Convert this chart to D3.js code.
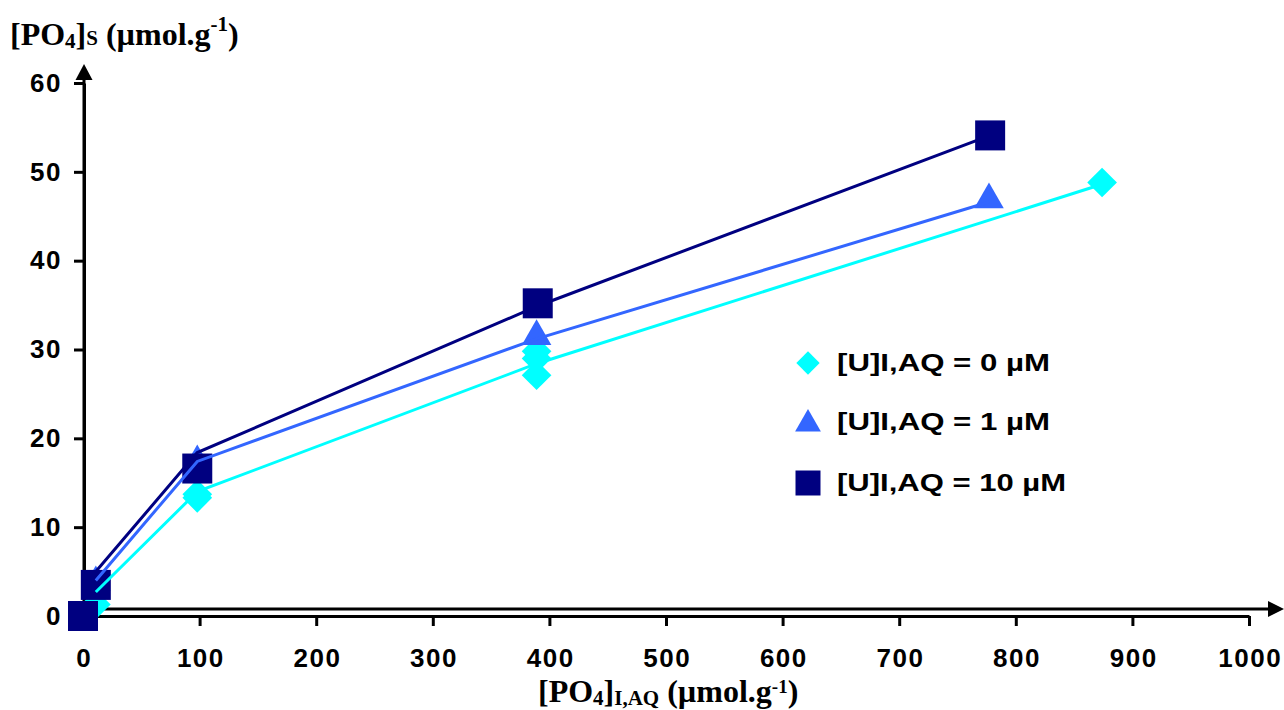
<!DOCTYPE html>
<html>
<head>
<meta charset="utf-8">
<script src="https://cdn.jsdelivr.net/npm/d3@7"></script>
<style>
  body { margin: 0; background: #fff; }
  svg { display: block; }
</style>
</head>
<body>
<div id="chart"></div>
<script>
var width = 1284
var height = 710

// tick values
var xTicks = [0, 100, 200, 300, 400, 500, 600, 700, 800, 900, 1000]
var yTicks = [0, 10, 20, 30, 40, 50, 60]

// measured points, one array pair per uranium concentration
var u0X = [0, 11, 98, 98, 389, 389, 389, 874]
var u0Y = [0, 1.3, 13.7, 13.3, 29.8, 29.0, 27.1, 48.8]
var u1X = [0, 11, 98, 389, 777]
var u1Y = [0, 4.0, 17.6, 31.7, 47.1]
var u10X = [0, 11, 98, 390, 778]
var u10Y = [0, 3.5, 16.6, 35.2, 54.1]

// model curves drawn through the points
var fit0X = [11, 98, 389, 874]
var fit0Y = [2.7, 14.0, 28.4, 48.6]
var fit1X = [11, 98, 389, 777]
var fit1Y = [4.0, 17.4, 31.2, 46.6]
var fit10X = [11, 98, 390, 778]
var fit10Y = [5.0, 18.4, 34.9, 54.1]

var seriesNames = ["[U]I,AQ = 0 µM", "[U]I,AQ = 1 µM", "[U]I,AQ = 10 µM"]
var colors = ["#00FFFF", "#3366FF", "#000080"]
var shapes = [d3.symbolSquare, d3.symbolTriangle, d3.symbolSquare]
var rotations = [45, 0, 0]

function zip(xs, ys) { return xs.map(function(v, i) { return [v, ys[i]] }) }

var series = [
  {pts: zip(u0X, u0Y), fit: zip(fit0X, fit0Y)},
  {pts: zip(u1X, u1Y), fit: zip(fit1X, fit1Y)},
  {pts: zip(u10X, u10Y), fit: zip(fit10X, fit10Y)}
]

var x = d3.scaleLinear().domain([0, 1000]).range([83, 1249])
var y = d3.scaleLinear().domain([0, 60]).range([616, 83])

var svg = d3.select("#chart")
  .append("svg")
  .attr("width", width)
  .attr("height", height)

var tickFont = "'Liberation Sans', Arial, sans-serif"

// x axis (the one carrying the ticks)
var gx = svg.append("g")
  .attr("transform", "translate(0," + y(0) + ")")
  .call(d3.axisBottom(x).tickValues(xTicks).tickFormat(d3.format("d"))
    .tickSize(10).tickSizeOuter(0).tickPadding(23))
gx.select(".domain").attr("stroke", "#000").attr("stroke-width", 3)
gx.selectAll(".tick line").attr("stroke", "#000").attr("stroke-width", 3)
gx.selectAll(".tick text")
  .attr("font-family", tickFont).attr("font-weight", "bold").attr("font-size", 26)
  .attr("letter-spacing", 1.5).attr("dx", 0.75).attr("fill", "#000")

// y axis
var gy = svg.append("g")
  .attr("transform", "translate(" + (x(0) + 1) + ",0)")
  .call(d3.axisLeft(y).tickValues(yTicks).tickSize(10).tickSizeOuter(0).tickPadding(12))
gy.select(".domain").attr("stroke", "#000").attr("stroke-width", 3)
gy.selectAll(".tick line").attr("stroke", "#000").attr("stroke-width", 3)
gy.selectAll(".tick text")
  .attr("font-family", tickFont).attr("font-weight", "bold").attr("font-size", 26)
  .attr("letter-spacing", 1.5).attr("fill", "#000")

// arrow lines sitting just inside the axes
var ax = x(0) + 1, ay = y(0) - 7
svg.append("line").attr("x1", ax).attr("y1", ay).attr("x2", 1270).attr("y2", ay)
  .attr("stroke", "#000").attr("stroke-width", 3)
svg.append("path").attr("d", "M1268," + (ay - 8) + "L1284," + ay + "L1268," + (ay + 8) + "Z").attr("fill", "#000")
svg.append("line").attr("x1", ax).attr("y1", ay + 1.5).attr("x2", ax).attr("y2", 78)
  .attr("stroke", "#000").attr("stroke-width", 3)
svg.append("path").attr("d", "M" + (ax - 8.5) + ",80L" + ax + ",64L" + (ax + 8.5) + ",80Z").attr("fill", "#000")

// markers first, fitted lines on top
var markerSizes = [21 * 21, 29 * 29 * 0.45, 30 * 30]
series.forEach(function(s, i) {
  svg.append("g").selectAll("path")
    .data(s.pts)
    .enter()
    .append("path")
    .attr("d", d3.symbol().type(shapes[i]).size(markerSizes[i]))
    .attr("transform", function(d) {
      var off = i == 1 ? 2 : 0
      return "translate(" + x(d[0]) + "," + (y(d[1]) + off) + ") rotate(" + rotations[i] + ")"
    })
    .attr("fill", colors[i])
})

var line = d3.line().x(function(d) { return x(d[0]) }).y(function(d) { return y(d[1]) })
series.forEach(function(s, i) {
  svg.append("path")
    .attr("d", line(s.fit))
    .attr("fill", "none")
    .attr("stroke", colors[i])
    .attr("stroke-width", 3)
})

// legend
var legendLengths = [213, 213, 229]
var leg = svg.append("g").attr("transform", "translate(808,0)")
var legRows = [363, 422, 483]
var legSizes = [16.5 * 16.5, 24 * 24 * 0.5, 25 * 25]
seriesNames.forEach(function(name, i) {
  leg.append("path")
    .attr("d", d3.symbol().type(shapes[i]).size(legSizes[i]))
    .attr("transform", "translate(0," + (legRows[i] + (i == 1 ? 2 : 0)) + ") rotate(" + rotations[i] + ")")
    .attr("fill", colors[i])
  leg.append("text")
    .attr("x", 29)
    .attr("y", legRows[i] + 8)
    .attr("font-family", tickFont).attr("font-weight", "bold").attr("font-size", 24)
    .attr("textLength", legendLengths[i])
    .attr("lengthAdjust", "spacingAndGlyphs")
    .text(name)
})

// axis titles
var serif = "'Liberation Serif', 'Times New Roman', serif"
var ty = svg.append("text")
  .attr("x", 10).attr("y", 45)
  .attr("font-family", serif).attr("font-weight", "bold").attr("font-size", 32)
ty.append("tspan").text("[PO")
ty.append("tspan").attr("font-size", 21).attr("dy", 3).text("4")
ty.append("tspan").attr("dy", -3).text("]")
ty.append("tspan").attr("font-size", 21).text("S")
ty.append("tspan").text(" (µmol.g")
ty.append("tspan").attr("font-size", 21).attr("dy", -14).text("-1")
ty.append("tspan").attr("dy", 14).text(")")

var tx = svg.append("text")
  .attr("x", 538).attr("y", 702)
  .attr("font-family", serif).attr("font-weight", "bold").attr("font-size", 32)
tx.append("tspan").text("[PO")
tx.append("tspan").attr("font-size", 21).attr("dy", 3).text("4")
tx.append("tspan").attr("dy", -3).text("]")
tx.append("tspan").attr("font-size", 21).attr("dy", 3).text("I,AQ")
tx.append("tspan").attr("dy", -3).text(" (µmol.g")
tx.append("tspan").attr("font-size", 19).attr("dy", -9).text("-1")
tx.append("tspan").attr("dy", 9).text(")")
</script>
</body>
</html>
